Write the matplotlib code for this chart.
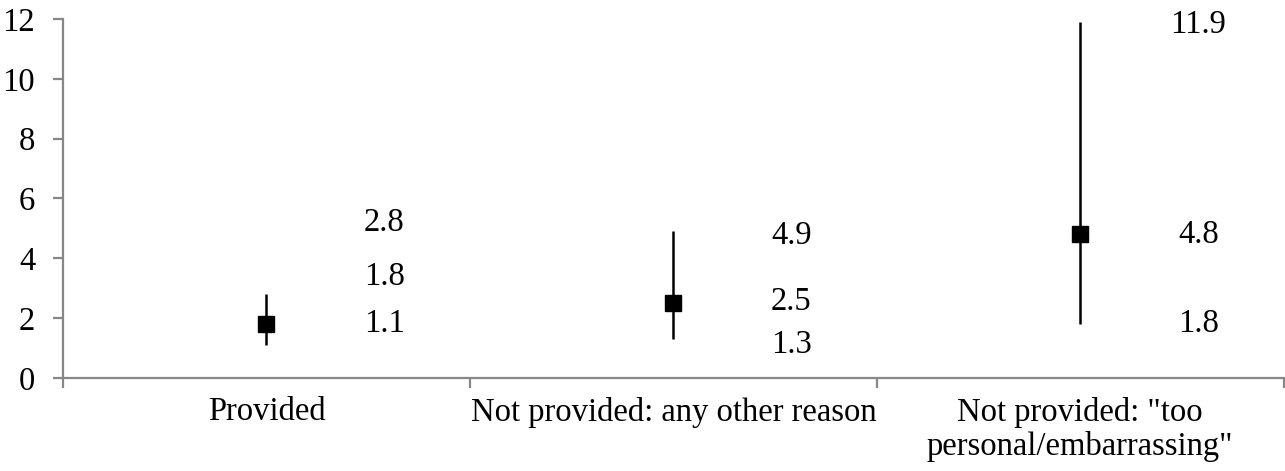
import matplotlib
matplotlib.use("Agg")
import matplotlib.pyplot as plt

# Estimates with 95% intervals by category
categories = ["Provided", "Not provided: any other reason", 'Not provided: "too\npersonal/embarrassing"']
estimate = [1.8, 2.5, 4.8]
lower = [1.1, 1.3, 1.8]
upper = [2.8, 4.9, 11.9]

# Vertical placement of the data labels (upper, estimate, lower), in axis units
label_heights = [
    [5.2, 3.4, 1.8],
    [4.75, 2.55, 1.1],
    [11.8, 4.8, 1.8],
]

plt.rcParams["font.family"] = ["Liberation Serif", "DejaVu Serif"]
plt.rcParams["font.size"] = 23.5

fig = plt.figure(figsize=(12.85, 4.71), dpi=100)
ax = fig.add_axes([0.049, 0.1975, 0.950, 0.7622])

xs = [i + 0.5 for i in range(len(categories))]
yerr = [[e - l for e, l in zip(estimate, lower)],
        [u - e for e, u in zip(estimate, upper)]]
ax.errorbar(xs, estimate, yerr=yerr, fmt="s", color="black", ecolor="black",
            elinewidth=1.8, markersize=11, capsize=0, zorder=3)

for x, e, lo, up, hts in zip(xs, estimate, lower, upper, label_heights):
    for val, h in zip((up, e, lo), hts):
        ax.text(x + 0.29, h, f"{val:.1f}", ha="center", va="center")

ax.set_xlim(0, 3)
ax.set_ylim(0, 12)
ax.set_yticks(range(0, 13, 2))
ax.set_xticks([0, 1, 2, 3])
ax.set_xticklabels([])
ax.set_xticks(xs, minor=True)
ax.set_xticklabels(categories, minor=True, linespacing=1.15)

gray = "#878787"
for side in ("top", "right"):
    ax.spines[side].set_visible(False)
for side in ("left", "bottom"):
    ax.spines[side].set_color(gray)
    ax.spines[side].set_linewidth(1.6)

ax.tick_params(axis="y", direction="out", length=7, width=1.6, color=gray, pad=13)
ax.tick_params(axis="x", which="major", direction="out", length=7, width=1.6, color=gray)
ax.tick_params(axis="x", which="minor", length=0, pad=13.5)

fig.savefig("out.png", dpi=100)
